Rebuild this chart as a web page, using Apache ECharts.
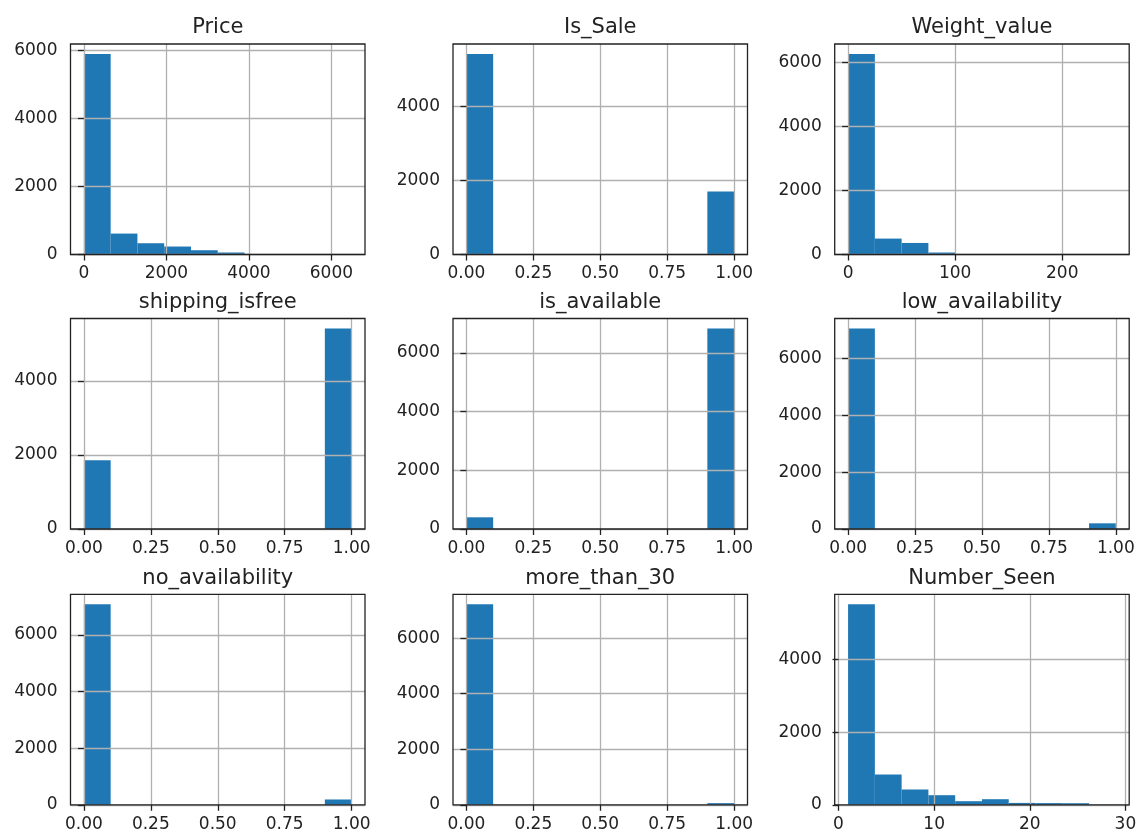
<!DOCTYPE html>
<html>
<head>
<meta charset="utf-8">
<script src="https://cdn.jsdelivr.net/npm/echarts@6/dist/echarts.min.js"></script>
<style>
html,body{margin:0;padding:0;background:#fff;}
#chart{width:1142px;height:836px;}
</style>
</head>
<body>
<div id="chart"></div>
<script>
// ---- data ----
const titles = ['Price','Is_Sale','Weight_value','shipping_isfree','is_available','low_availability','no_availability','more_than_30','Number_Seen'];

const priceEdges = [0,649,1298,1947,2596,3245,3894,4543,5192,5841,6490];
const priceCounts = [5893,615,331,234,126,59,14,6,3,2];

const binaryEdges = [0,0.1,0.2,0.3,0.4,0.5,0.6,0.7,0.8,0.9,1.0];
const isSaleCounts = [5425,0,0,0,0,0,0,0,0,1707];

const weightEdges = [0,25,50,75,100,125,150,175,200,225,250];
const weightCounts = [6270,498,361,62,9,4,2,1,0,1];

const shippingCounts = [1857,0,0,0,0,0,0,0,0,5410];
const isAvailableCounts = [398,0,0,0,0,0,0,0,0,6825];
const lowAvailCounts = [7055,0,0,0,0,0,0,0,0,200];
const noAvailCounts = [7085,0,0,0,0,0,0,0,0,188];
const moreThan30Counts = [7220,0,0,0,0,0,0,0,0,60];

const seenEdges = [1,3.8,6.6,9.4,12.2,15,17.8,20.6,23.4,26.2,29];
const seenCounts = [5515,833,421,264,99,154,52,47,44,4];

const priceTicks = [0,2000,4000,6000];
const binaryTicks = [0,0.25,0.5,0.75,1.0];
const weightTicks = [0,100,200];
const seenTicks = [0,10,20,30];
const yTicks3 = [0,2000,4000];
const yTicks4 = [0,2000,4000,6000];

const panels = [
  {edges: priceEdges, counts: priceCounts, xt: priceTicks, yt: yTicks4, dec: 0},
  {edges: binaryEdges, counts: isSaleCounts, xt: binaryTicks, yt: yTicks3, dec: 2},
  {edges: weightEdges, counts: weightCounts, xt: weightTicks, yt: yTicks4, dec: 0},
  {edges: binaryEdges, counts: shippingCounts, xt: binaryTicks, yt: yTicks3, dec: 2},
  {edges: binaryEdges, counts: isAvailableCounts, xt: binaryTicks, yt: yTicks4, dec: 2},
  {edges: binaryEdges, counts: lowAvailCounts, xt: binaryTicks, yt: yTicks4, dec: 2},
  {edges: binaryEdges, counts: noAvailCounts, xt: binaryTicks, yt: yTicks4, dec: 2},
  {edges: binaryEdges, counts: moreThan30Counts, xt: binaryTicks, yt: yTicks4, dec: 2},
  {edges: seenEdges, counts: seenCounts, xt: seenTicks, yt: yTicks3, dec: 0}
];

// ---- layout ----
const colLeft = [70.5, 453, 834.7];
const rowTop = [44, 318.5, 594.3];
const gw = 294.5, gh = 210.5;
const FONT = 'DejaVu Sans';
const TXT = '#222';
const SPINE = '#222';

const grids = [], xAxes = [], yAxes = [], series = [], titleArr = [];
panels.forEach((p, i) => {
  const r = Math.floor(i / 3), c = i % 3;
  const left = colLeft[c], top = rowTop[r];
  grids.push({left: left, top: top, width: gw, height: gh, show: true,
    borderColor: SPINE, borderWidth: 1.3, backgroundColor: 'transparent', z: 6});
  const lo = p.edges[0], hi = p.edges[p.edges.length - 1], span = hi - lo;
  const ymax = Math.max.apply(null, p.counts) * 1.05;
  xAxes.push({type: 'value', gridIndex: i, min: lo - 0.05 * span, max: hi + 0.05 * span, z: 5,
    axisLine: {show: false},
    axisTick: {show: true, length: 6, lineStyle: {color: SPINE, width: 1.3}, customValues: p.xt},
    axisLabel: {customValues: p.xt, margin: 11, color: TXT, fontFamily: FONT, fontSize: 17,
      formatter: (v) => Number(v).toFixed(p.dec)},
    splitLine: {show: true, lineStyle: {color: '#b0b0b0', width: 1.3}}
  });
  yAxes.push({type: 'value', gridIndex: i, min: 0, max: ymax, z: 5,
    axisLine: {show: false},
    axisTick: {show: true, length: 6, lineStyle: {color: SPINE, width: 1.3}, customValues: p.yt},
    axisLabel: {customValues: p.yt, margin: 13, color: TXT, fontFamily: FONT, fontSize: 17,
      formatter: (v) => String(Math.round(v))},
    splitLine: {show: true, lineStyle: {color: '#b0b0b0', width: 1.3}}
  });
  const data = p.counts.map((cnt, k) => [p.edges[k], p.edges[k + 1], cnt]);
  series.push({type: 'custom', xAxisIndex: i, yAxisIndex: i, z: 2, data: data,
    encode: {x: [0, 1], y: 2},
    renderItem: function (params, api) {
      const a = api.coord([api.value(0), 0]);
      const b = api.coord([api.value(1), api.value(2)]);
      return {type: 'rect', shape: {x: a[0], y: b[1], width: b[0] - a[0], height: a[1] - b[1]},
        style: {fill: '#1f77b4'}};
    }
  });
  titleArr.push({text: titles[i], left: left + gw / 2, top: top - 26.5, textAlign: 'center',
    padding: 0, textStyle: {fontFamily: FONT, fontSize: 21, fontWeight: 'normal', color: TXT}});
});

const chart = echarts.init(document.getElementById('chart'), null, {renderer: 'canvas'});
chart.setOption({
  animation: false,
  backgroundColor: '#fff',
  title: titleArr,
  grid: grids,
  xAxis: xAxes,
  yAxis: yAxes,
  series: series
});
</script>
</body>
</html>
